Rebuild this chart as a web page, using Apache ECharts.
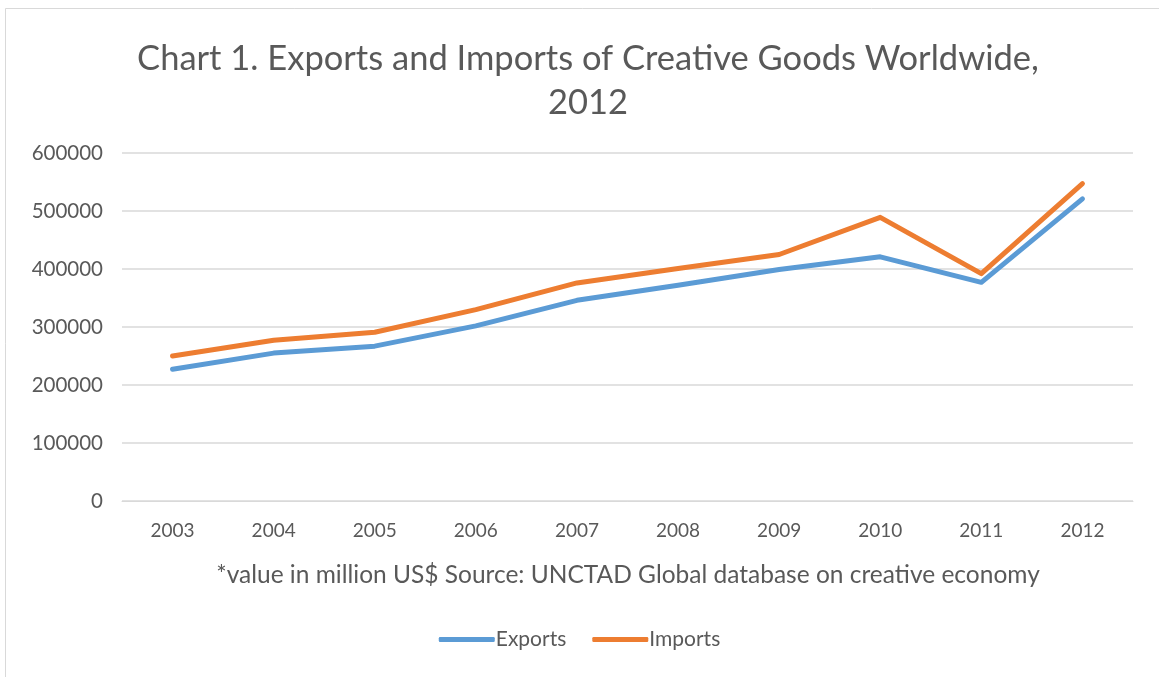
<!DOCTYPE html>
<html>
<head>
<meta charset="utf-8">
<script src="https://cdn.jsdelivr.net/npm/echarts@6/dist/echarts.min.js"></script>
<style>
  html, body { margin: 0; padding: 0; background: #fff; }
  #chart { width: 1159px; height: 677px; }
</style>
</head>
<body>
<div id="chart"></div>
<script>
// Creative goods trade, million US$
const years = ['2003', '2004', '2005', '2006', '2007', '2008', '2009', '2010', '2011', '2012'];
const exportsValues = [227000, 255000, 267000, 302000, 346000, 372000, 399000, 421000, 377000, 521000];
const importsValues = [250000, 277000, 291000, 330000, 376000, 401000, 425000, 489000, 392000, 547000];
const yTicks = [0, 100000, 200000, 300000, 400000, 500000, 600000];

const FONT = 'Lato, "Open Sans", sans-serif';
const TEXT = '#595959';

const chart = echarts.init(document.getElementById('chart'));
chart.setOption({
  backgroundColor: '#fff',
  animation: false,
  graphic: [{
    type: 'rect',
    shape: { x: 5.5, y: 8.5, width: 1170, height: 700 },
    style: { fill: 'none', stroke: '#d9d9d9', lineWidth: 1 },
    silent: true
  }],
  title: [{
    text: 'Chart 1. Exports and Imports of Creative Goods Worldwide,\n2012',
    left: 583, top: 32, textAlign: 'center',
    textStyle: { fontFamily: FONT, fontWeight: 'normal', fontSize: 34.5, color: TEXT, lineHeight: 44 }
  }, {
    text: '*value in million US$ Source: UNCTAD Global database on creative economy',
    left: 623, top: 558, textAlign: 'center',
    textStyle: { fontFamily: FONT, fontWeight: 'normal', fontSize: 24.5, color: TEXT }
  }],
  legend: {
    bottom: 22, left: 'center',
    itemWidth: 56, itemHeight: 5, itemGap: 26,
    icon: 'roundRect',
    textStyle: { fontFamily: FONT, fontSize: 21, color: TEXT, padding: [0, 0, 0, -4] },
    data: ['Exports', 'Imports']
  },
  grid: { left: 122, right: 26, top: 153, bottom: 176 },
  xAxis: {
    type: 'category',
    data: years,
    boundaryGap: true,
    axisLine: { show: true, lineStyle: { color: '#d9d9d9', width: 1 } },
    axisTick: { show: false },
    axisLabel: { fontFamily: FONT, fontSize: 19, color: TEXT, margin: 20 }
  },
  yAxis: {
    type: 'value',
    min: yTicks[0], max: yTicks[yTicks.length - 1], interval: 100000,
    axisLine: { show: false },
    axisTick: { show: false },
    splitLine: { lineStyle: { color: '#d9d9d9', width: 1.5 } },
    axisLabel: { fontFamily: FONT, fontSize: 20.5, color: TEXT, margin: 19, formatter: v => String(v) }
  },
  series: [{
    name: 'Exports', type: 'line', data: exportsValues,
    symbol: 'none', color: '#5B9BD5',
    lineStyle: { width: 5, cap: 'round', join: 'round' }
  }, {
    name: 'Imports', type: 'line', data: importsValues,
    symbol: 'none', color: '#ED7D31',
    lineStyle: { width: 5, cap: 'round', join: 'round' }
  }]
});
</script>
</body>
</html>
